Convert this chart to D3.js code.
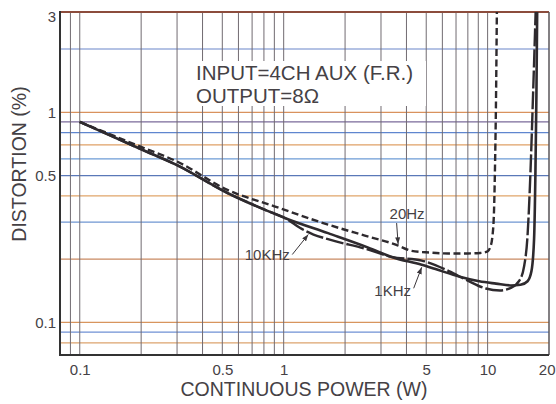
<!DOCTYPE html>
<html><head><meta charset="utf-8">
<script src="https://cdn.jsdelivr.net/npm/d3@7"></script>
<style>
html,body{margin:0;padding:0;background:#fff;}
svg{display:block;font-family:"Liberation Sans",Arial,Helvetica,sans-serif;}
</style></head><body>
<svg id="chart" width="556" height="404"></svg>
<script>
// ---------- data ----------
const xTickValues = [0.1, 0.5, 1, 5, 10, 20];
const xTickLabels = ["0.1", "0.5", "1", "5", "10", "20"];
const yTickValues = [0.1, 0.5, 1, 3];
const yTickLabels = ["0.1", "0.5", "1", "3"];
const xGridValues = [0.09, 0.1, 0.2, 0.3, 0.4, 0.5, 0.6, 0.7, 0.8, 0.9, 1, 2, 3, 4, 5, 6, 7, 8, 9, 10];
const yGridValues = [0.08, 0.09, 0.1, 0.2, 0.3, 0.4, 0.5, 0.6, 0.7, 0.8, 0.9, 1, 2];

// 1KHz (solid)
const power1k = [0.1, 0.2, 0.3, 0.53, 0.8, 1.05, 1.65, 2.6, 3.38, 4.75, 5.5, 7.3, 9.1, 11, 13, 14.5, 15.7, 16.4, 16.9, 17.15, 17.35, 17.5];
const dist1k  = [0.9, 0.667, 0.56, 0.413, 0.345, 0.31, 0.266, 0.227, 0.205, 0.188, 0.18, 0.165, 0.157, 0.153, 0.15, 0.151, 0.157, 0.175, 0.25, 0.5, 1.2, 3.0];
// 10KHz (long dash)
const power10k = [0.1, 0.2, 0.3, 0.53, 0.8, 1.05, 1.2, 1.4, 1.65, 2.6, 3.38, 4.75, 6.5, 8, 9.8, 11.5, 13, 14.3, 15.1, 15.7, 16.2, 16.7, 17.2];
const dist10k  = [0.9, 0.667, 0.56, 0.413, 0.345, 0.308, 0.282, 0.262, 0.249, 0.222, 0.205, 0.197, 0.175, 0.158, 0.145, 0.142, 0.146, 0.158, 0.185, 0.26, 0.5, 1.2, 3.0];
// 20Hz (short dash)
const power20 = [0.1, 0.2, 0.3, 0.53, 0.9, 1.65, 2.5, 3.57, 4.24, 5.2, 6.4, 8, 9.2, 10.0, 10.3, 10.55, 10.75, 10.85, 11.0, 11.1];
const dist20  = [0.9, 0.684, 0.583, 0.427, 0.357, 0.292, 0.259, 0.234, 0.219, 0.215, 0.213, 0.213, 0.214, 0.218, 0.228, 0.255, 0.34, 0.5, 1.2, 3.0];

const seriesNames = ["1KHz", "10KHz", "20Hz"];
const noteLines = ["INPUT=4CH AUX (F.R.)", "OUTPUT=8Ω"];
const xTitle = "CONTINUOUS POWER (W)";
const yTitle = "DISTORTION (%)";

// ---------- styling ----------
const hGridColors = {
  0.08: "#dca36e", 0.09: "#6f90d4", 0.1: "#d8955e", 0.2: "#c98a62", 0.3: "#6f96d2",
  0.4: "#e0a56a", 0.5: "#5a78b8", 0.6: "#6d9bd6", 0.7: "#dfa066", 0.8: "#5f86cf",
  0.9: "#7a6a9a", 1: "#d9925e", 2: "#6b86c9"
};
const ink = "#2e2a2e";
const textInk = "#454145";

const svg = d3.select("#chart");
const L = 60, R = 549, T = 12, B = 355;
const x = d3.scaleLog().domain([0.08, 20]).range([L, R]);
const y = d3.scaleLog().domain([0.07, 3]).range([B, T]);

// marker
svg.append("defs").append("marker")
  .attr("id", "arrow").attr("viewBox", "0 0 8 6").attr("refX", 8).attr("refY", 3)
  .attr("markerWidth", 7).attr("markerHeight", 5).attr("markerUnits", "userSpaceOnUse")
  .attr("orient", "auto")
  .append("path").attr("d", "M0,0 L8,3 L0,6 Z").attr("fill", "#3a363a");

// grid
const grid = svg.append("g");
grid.selectAll("line.h").data(yGridValues).join("line")
  .attr("class", "h")
  .attr("x1", L).attr("x2", R)
  .attr("y1", d => y(d)).attr("y2", d => y(d))
  .attr("stroke", d => hGridColors[d]).attr("stroke-width", 1.2);
grid.selectAll("line.v").data(xGridValues).join("line")
  .attr("class", "v")
  .attr("x1", d => x(d)).attr("x2", d => x(d))
  .attr("y1", T).attr("y2", B)
  .attr("stroke", "#716b71").attr("stroke-width", 1);

// note box
svg.append("rect").attr("x", 190).attr("y", 61).attr("width", 236).attr("height", 45).attr("fill", "#fff");
svg.append("g").selectAll("text").data(noteLines).join("text")
  .attr("x", 196).attr("y", (d, i) => 80 + i * 23)
  .attr("font-size", 20.5).attr("fill", textInk)
  .text(d => d);

// frame
svg.append("line").attr("x1", L).attr("x2", R).attr("y1", T).attr("y2", T).attr("stroke", "#8c4c3c").attr("stroke-width", 2);
svg.append("line").attr("x1", R).attr("x2", R).attr("y1", T).attr("y2", B).attr("stroke", "#5a565a").attr("stroke-width", 1.5);
svg.append("line").attr("x1", L).attr("x2", L).attr("y1", T - 1).attr("y2", B + 1).attr("stroke", "#333").attr("stroke-width", 2);
svg.append("line").attr("x1", L).attr("x2", R).attr("y1", B).attr("y2", B).attr("stroke", "#333").attr("stroke-width", 2);

// curves
const line = d3.line().x(d => x(d[0])).y(d => y(d[1])).curve(d3.curveMonotoneX);
const series = [
  { name: seriesNames[1], data: d3.zip(power10k, dist10k), dash: "18,3", w: 2.4 },
  { name: seriesNames[2], data: d3.zip(power20, dist20), dash: "7,3.5", w: 2.4 },
  { name: seriesNames[0], data: d3.zip(power1k, dist1k), dash: null, w: 2.6 }
];
svg.append("g").selectAll("path").data(series).join("path")
  .attr("d", d => line(d.data))
  .attr("fill", "none").attr("stroke", ink)
  .attr("stroke-width", d => d.w)
  .attr("stroke-dasharray", d => d.dash)
  .attr("stroke-linejoin", "round");

// curve labels with arrows (tip in data space, tail/text offsets in px)
const notes = [
  { label: seriesNames[2], tip: [3.64, 0.236], tail: [-1.5, -21], text: [9, -25] },
  { label: seriesNames[1], tip: [1.32, 0.262], tail: [-16, 20], text: [-41, 25] },
  { label: seriesNames[0], tip: [4.75, 0.183], tail: [-8, 21], text: [-29, 29] }
];
const ng = svg.append("g");
notes.forEach(n => {
  const tx = x(n.tip[0]), ty = y(n.tip[1]);
  ng.append("line").attr("x1", tx + n.tail[0]).attr("y1", ty + n.tail[1])
    .attr("x2", tx).attr("y2", ty)
    .attr("stroke", "#3a363a").attr("stroke-width", 1).attr("marker-end", "url(#arrow)");
  ng.append("text").attr("x", tx + n.text[0]).attr("y", ty + n.text[1])
    .attr("text-anchor", "middle").attr("font-size", 15).attr("fill", textInk)
    .text(n.label);
});

// axes
const xAxis = d3.axisBottom(x).tickValues(xTickValues).tickFormat((d, i) => xTickLabels[i]).tickSize(0).tickPadding(9);
const gx = svg.append("g").attr("transform", `translate(0,${B})`).call(xAxis);
gx.select(".domain").remove();
gx.selectAll("text").attr("font-size", 15).attr("fill", textInk).attr("font-family", null);
gx.selectAll(".tick").filter(d => d === 20).select("text").attr("text-anchor", "end").attr("dx", 6);

const yAxis = d3.axisLeft(y).tickValues(yTickValues).tickFormat((d, i) => yTickLabels[i]).tickSize(0).tickPadding(4);
const gy = svg.append("g").attr("transform", `translate(${L},0)`).call(yAxis);
gy.select(".domain").remove();
gy.selectAll("text").attr("font-size", 15).attr("fill", textInk).attr("font-family", null);
gy.selectAll(".tick").filter(d => d === 3).select("text").attr("dy", "0.6em");

// titles
svg.append("text").attr("x", 304).attr("y", 396).attr("text-anchor", "middle")
  .attr("font-size", 19.5).attr("fill", textInk).text(xTitle);
svg.append("text").attr("transform", "translate(26,164) rotate(-90)").attr("text-anchor", "middle")
  .attr("font-size", 19.5).attr("fill", textInk).text(yTitle);
</script>
</body></html>
